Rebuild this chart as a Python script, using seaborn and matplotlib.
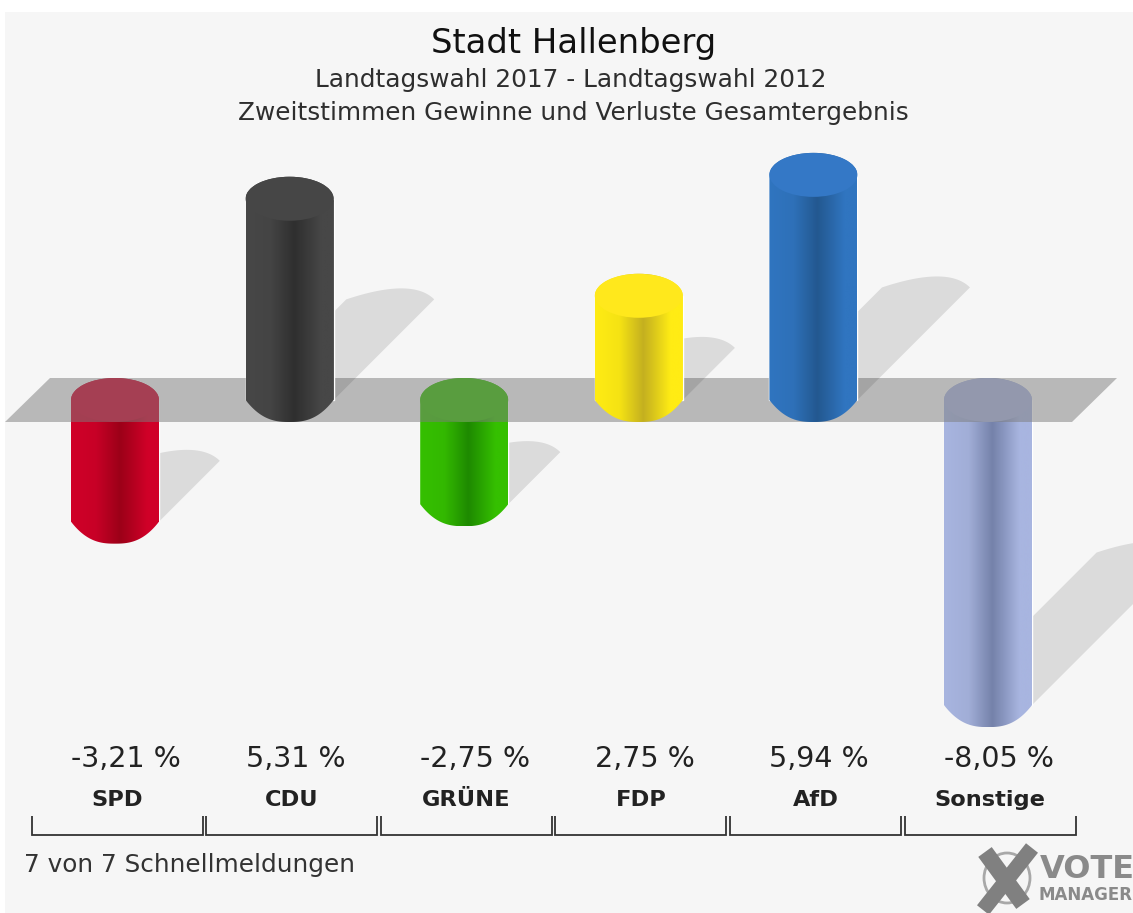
import numpy as np
import pandas as pd
import matplotlib
matplotlib.use('Agg')
import matplotlib.pyplot as plt
import seaborn as sns
from matplotlib.colors import LinearSegmentedColormap, to_rgb
from matplotlib.patches import Ellipse, PathPatch, Polygon
from matplotlib.path import Path
from matplotlib.transforms import Affine2D

parties = ['SPD', 'CDU', 'GRÜNE', 'FDP', 'AfD', 'Sonstige']
values = [-3.21, 5.31, -2.75, 2.75, 5.94, -8.05]
value_labels = ['-3,21 %', '5,31 %', '-2,75 %', '2,75 %', '5,94 %', '-8,05 %']
edge_colors = ['#d00028', '#474747', '#35c000', '#ffec14', '#3075c0', '#a8b5e0']
dark_colors = ['#9c0018', '#2f2f2f', '#1e8a00', '#c4b020', '#235890', '#7582aa']
cap_colors = ['#d00028', '#464646', '#35c000', '#ffe81c', '#3478c6', '#aab6e0']

W, H = 1133, 913
PX_PER_UNIT_X = 174.6
PX_PER_UNIT_Y = 37.9
CAP_RY = 22

sns.set_theme(style='white')
plt.rcParams['font.family'] = ['DejaVu Sans']

fig = plt.figure(figsize=(W / 100, H / 100), dpi=100, facecolor='white')
ax = fig.add_axes([5 / W, 0, (W - 5) / W, (H - 12) / H])
ax.set_facecolor('#f6f6f6')

# pixel coordinates of the picture, y going down
px = Affine2D().scale(1 / W, -1 / H).translate(0, 1) + fig.transFigure

df = pd.DataFrame({'party': parties, 'value': values})
sns.barplot(data=df, x='party', y='value', hue='party', palette=edge_colors,
            order=parties, hue_order=parties, dodge=False, legend=False,
            width=88 / PX_PER_UNIT_X, ax=ax, saturation=1)

xlim = ((5 - 115) / PX_PER_UNIT_X, (W - 115) / PX_PER_UNIT_X)
ylim = ((400 - H) / PX_PER_UNIT_Y, (400 - 12) / PX_PER_UNIT_Y)
ax.set_xlim(xlim)
ax.set_ylim(ylim)
ax.set_xlabel('')
ax.set_ylabel('')
ax.set_xticks([])
ax.set_yticks([])
for s in ax.spines.values():
    s.set_visible(False)

ry = CAP_RY / PX_PER_UNIT_Y
rx_px = 44
t = np.linspace(0, np.pi, 60)
u = np.linspace(1, -1, 60)

bars = list(ax.patches)
for i, bar in enumerate(bars):
    val = values[i]
    left, right = bar.get_x(), bar.get_x() + bar.get_width()
    mid = (left + right) / 2
    rx = (right - left) / 2
    top, low = max(val, 0), min(val, 0)
    z = 4 if val > 0 else 1
    bar.set_zorder(z)

    # cylinder outline, round on top, flatter arc with corners at the bottom
    xs = np.r_[mid + rx * np.cos(t), mid + rx * u[::-1]]
    ys = np.r_[top + ry * np.sin(t), low - ry * (1 - np.abs(u[::-1]) ** 2.6)]
    outline = PathPatch(Path(np.c_[xs, ys]), transform=ax.transData, fc='none', ec='none')
    ax.add_patch(outline)

    e, d = np.array(to_rgb(edge_colors[i])), np.array(to_rgb(dark_colors[i]))
    cmap = LinearSegmentedColormap.from_list(
        'c', [(0, e), (0.28, e * 0.96), (0.55, d), (0.66, (e + 2 * d) / 3),
              (0.86, e), (1, e)])
    im = ax.imshow(np.linspace(0, 1, 256)[None, :], cmap=cmap, aspect='auto',
                   extent=(left, right, low - ry, top + ry), zorder=z)
    im.set_clip_path(outline)
    ax.add_patch(Ellipse((mid, top), 2 * rx, 2 * ry, fc=cap_colors[i], ec='none', zorder=z + 0.1))

ax.set_xlim(xlim)
ax.set_ylim(ylim)

# band at zero
ax.add_patch(Polygon([(5, 422), (1072, 422), (1117, 378), (50, 378)], closed=True,
                     transform=px, fc='#7d7d7d', alpha=0.51, ec='none', zorder=2))

# shadows leave the lower end of each bar and climb half the bar height
for i, bar in enumerate(bars):
    h = abs(values[i]) * PX_PER_UNIT_Y
    cx = 115 + i * PX_PER_UNIT_X
    y0 = 400 - min(values[i], 0) * PX_PER_UNIT_Y
    ex, ey = cx + h / 2, y0 - h / 2
    bulge = CAP_RY / 2 * (1 - u ** 2)
    arc_x = ex + rx_px * u + bulge
    arc_y = ey - bulge
    pts = np.r_[np.c_[[cx + rx_px], [y0]], np.c_[arc_x, arc_y], np.c_[[cx - rx_px], [y0]]]
    ax.add_patch(Polygon(pts, closed=True, transform=px, fc='black', alpha=0.105, ec='none',
                         zorder=3 if values[i] > 0 else 0.5, clip_on=True))

# titles
ax.text(574, 53, 'Stadt Hallenberg', transform=px, ha='center', va='baseline',
        fontsize=24.4, color='#111111', zorder=6)
ax.text(571, 87, 'Landtagswahl 2017 - Landtagswahl 2012', transform=px, ha='center',
        va='baseline', fontsize=17.8, color='#2e2e2e', zorder=6)
ax.text(573, 120, 'Zweitstimmen Gewinne und Verluste Gesamtergebnis', transform=px,
        ha='center', va='baseline', fontsize=17.8, color='#2e2e2e', zorder=6)

# values, party names and brackets
for i, party in enumerate(parties):
    ax.text(71 + i * PX_PER_UNIT_X, 767, value_labels[i], transform=px, ha='left',
            va='baseline', fontsize=20.5, color='#222222', zorder=6)
    c = 117.3 + i * 174.55
    ax.text(c, 806, party, transform=px, ha='center', va='baseline', fontsize=16.2,
            fontweight='bold', color='#222222', zorder=6)
    ax.plot([c - 85.5, c - 85.5, c + 85.5, c + 85.5], [816, 835, 835, 816], transform=px,
            color='#333333', lw=1.3, solid_joinstyle='miter', solid_capstyle='butt', zorder=6)

ax.text(24, 872, '7 von 7 Schnellmeldungen', transform=px, ha='left', va='baseline',
        fontsize=17.8, color='#333333', zorder=6)

# logo
ax.add_patch(Ellipse((1007, 878), 46, 50, transform=px, fc='none', ec='#a8a8a8', lw=2, zorder=6))
ax.plot([985, 1023], [852, 904], transform=px, color='#808080', lw=12,
        solid_capstyle='butt', zorder=6)
ax.plot([1032, 983], [848, 910], transform=px, color='#808080', lw=11,
        solid_capstyle='butt', zorder=6)
ax.text(1040, 878, 'VOTE', transform=px, ha='left', va='baseline', fontsize=23,
        fontweight='bold', color='#8a8a8a', zorder=6)
ax.text(1039, 900, 'MANAGER', transform=px, ha='left', va='baseline', fontsize=12,
        fontweight='bold', color='#8a8a8a', zorder=6)

fig.savefig('out.png', dpi=100, facecolor='white')
